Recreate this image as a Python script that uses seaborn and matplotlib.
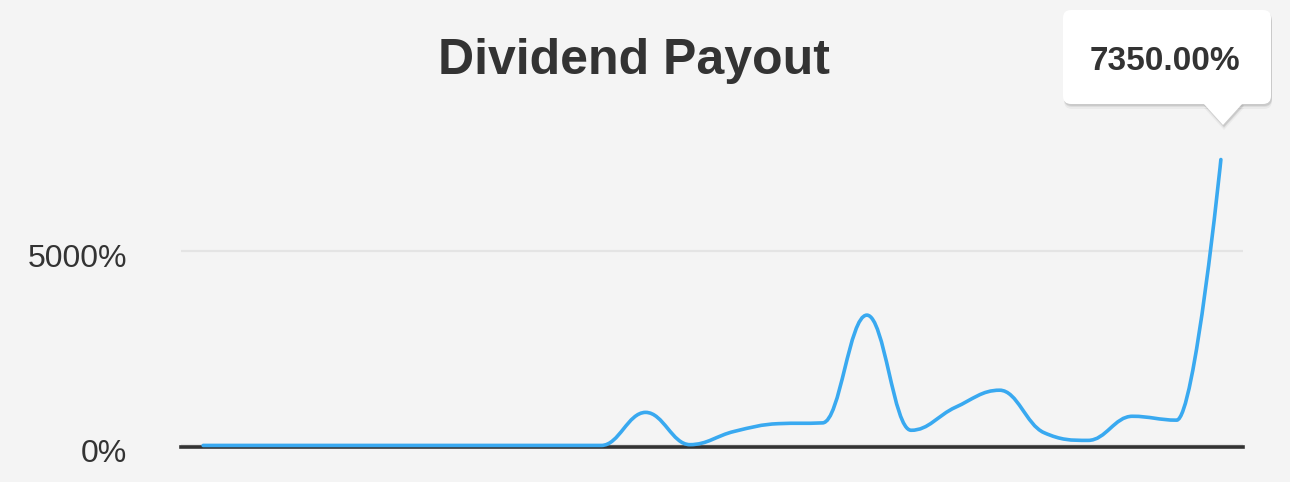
import numpy as np
import matplotlib.pyplot as plt
import seaborn as sns
from matplotlib.path import Path
from matplotlib.patches import PathPatch, FancyBboxPatch, Polygon
import matplotlib.transforms as mtransforms

# one value per period (percent)
periods = list(range(24))
payout = [0, 0, 0, 0, 0, 0, 0, 0, 0, 0,
          850, 20, 360, 560, 580, 3350, 390, 980, 1420, 330,
          130, 750, 650, 7350]
y_ticks = [0, 5000]
tip_label = "7350.00%"

BG = "#f4f4f4"
LINE = "#39a9f0"
TXT = "#333333"


def spline_path(xs, ys, smoothing=1.5):
    # highcharts-style spline: bezier through every point, no overshoot
    n = len(xs)
    denom = smoothing + 1
    left = [None] * n
    right = [None] * n
    for i in range(1, n - 1):
        x, y = xs[i], ys[i]
        lx, ly = xs[i - 1], ys[i - 1]
        nx, ny = xs[i + 1], ys[i + 1]
        lcx = (smoothing * x + lx) / denom
        lcy = (smoothing * y + ly) / denom
        rcx = (smoothing * x + nx) / denom
        rcy = (smoothing * y + ny) / denom
        corr = ((rcy - lcy) * (rcx - x)) / (rcx - lcx) + y - rcy
        lcy += corr
        rcy += corr
        if lcy > ly and lcy > y:
            lcy = max(ly, y)
            rcy = 2 * y - lcy
        elif lcy < ly and lcy < y:
            lcy = min(ly, y)
            rcy = 2 * y - lcy
        if rcy > ny and rcy > y:
            rcy = max(ny, y)
            lcy = 2 * y - rcy
        elif rcy < ny and rcy < y:
            rcy = min(ny, y)
            lcy = 2 * y - rcy
        left[i] = (lcx, lcy)
        right[i] = (rcx, rcy)
    verts = [(xs[0], ys[0])]
    codes = [Path.MOVETO]
    for i in range(1, n):
        c1 = right[i - 1] or (xs[i - 1], ys[i - 1])
        c2 = left[i] or (xs[i], ys[i])
        verts += [c1, c2, (xs[i], ys[i])]
        codes += [Path.CURVE4] * 3
    return Path(verts, codes)


sns.set_theme(style="white")
plt.rcParams["font.family"] = ["Liberation Sans", "DejaVu Sans"]

fig = plt.figure(figsize=(12.9, 4.82), dpi=100, facecolor=BG)
ax = fig.add_axes([181 / 1290, 35 / 482, 1062 / 1290, 389 / 482])
ax.set_facecolor(BG)

sns.lineplot(x=periods, y=payout, ax=ax, lw=0)
ax.add_patch(PathPatch(spline_path(periods, payout), fill=False,
                       edgecolor=LINE, lw=2.6, zorder=4, clip_on=False,
                       capstyle="round", joinstyle="round"))

ax.set_xlim(-0.5, 23.5)
ax.set_ylim(-40, 9960)
ax.set_xticks([])
ax.set_yticks(y_ticks)
ax.set_yticklabels([f"{v}%" for v in y_ticks])
ax.set_xlabel("")
ax.set_ylabel("")
ax.tick_params(axis="y", length=0, pad=39, labelsize=23, labelcolor=TXT)
for lab in ax.get_yticklabels():
    lab.set_transform(lab.get_transform() +
                      mtransforms.ScaledTranslation(0, -5 / 100, fig.dpi_scale_trans))
ax.grid(axis="y", color="#e4e4e4", lw=1.6)
ax.grid(axis="x", visible=False)
for s in ["top", "right", "left"]:
    ax.spines[s].set_visible(False)
ax.spines["bottom"].set_color(TXT)
ax.spines["bottom"].set_linewidth(2.6)

fig.text(634 / 1290, 1 - 61 / 482, "Dividend Payout", ha="center", va="center",
         fontsize=36, fontweight="bold", color=TXT)

# tooltip box (pixel coords, origin bottom-left)
H = 482
ident = mtransforms.IdentityTransform()
bx0, bx1, by0, by1 = 1063, 1271, H - 104, H - 10
tri = [(1203, by0 + 1), (1243, by0 + 1), (1223, H - 125)]
for dx, dy, a in [(1, -5, 0.04), (1, -3, 0.06), (1, -2, 0.08)]:
    fig.patches.append(FancyBboxPatch((bx0 + dx, by0 + dy), bx1 - bx0, by1 - by0,
                                      boxstyle="round,pad=0,rounding_size=8",
                                      transform=ident, facecolor="black",
                                      edgecolor="none", alpha=a))
    fig.patches.append(Polygon([(x + dx, y + dy) for x, y in tri], closed=True,
                               transform=ident, facecolor="black",
                               edgecolor="none", alpha=a))
fig.patches.append(FancyBboxPatch((bx0, by0), bx1 - bx0, by1 - by0,
                                  boxstyle="round,pad=0,rounding_size=8",
                                  transform=ident, facecolor="white", edgecolor="none"))
fig.patches.append(Polygon(tri, closed=True, transform=ident,
                           facecolor="white", edgecolor="none"))
fig.text(1165 / 1290, 1 - 62 / 482, tip_label, ha="center", va="center",
         fontsize=24, fontweight="bold", color=TXT)

fig.savefig("out.png", dpi=100, facecolor=BG)
